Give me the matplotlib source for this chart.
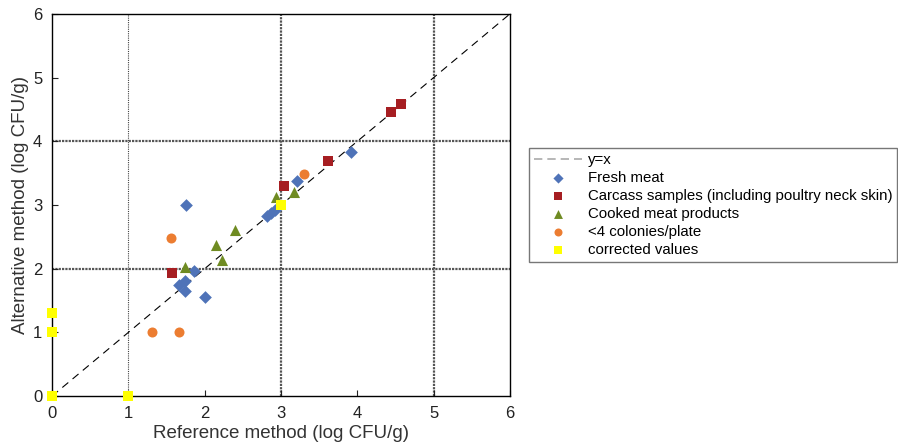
import matplotlib.pyplot as plt

plt.rcParams['font.family'] = ['Liberation Sans', 'DejaVu Sans']

# values (log CFU/g)
fresh_x = [1.75, 3.21, 2.82, 2.87, 2.92, 1.86, 1.74, 1.66, 1.74, 2.0, 3.91]
fresh_y = [3.0, 3.38, 2.82, 2.87, 2.92, 1.96, 1.81, 1.74, 1.65, 1.56, 3.83]

carcass_x = [1.57, 3.04, 3.62, 4.44, 4.57]
carcass_y = [1.93, 3.29, 3.69, 4.46, 4.58]

cooked_x = [1.74, 2.15, 2.23, 2.40, 2.94, 3.17]
cooked_y = [2.02, 2.37, 2.13, 2.61, 3.13, 3.20]

few_x = [3.30, 1.56, 1.31, 1.66]
few_y = [3.48, 2.48, 1.0, 1.0]

corr_x = [3.0, 0, 1, 0, 0]
corr_y = [3.0, 0, 0, 1, 1.3]

ticks = [0, 1, 2, 3, 4, 5, 6]

fig = plt.figure(figsize=(8.98, 4.46), dpi=100)
ax = fig.add_axes([0.058, 0.112, 0.510, 0.857])

# grid lines at odd x and even y
ax.axvline(1, color="#444444", lw=0.8, ls=(0, (1, 1)), zorder=1)
for xv in [3, 5]:
    ax.axvline(xv, color="#555555", lw=1.6, ls=(0, (1, 0.5)), zorder=1)
for yv in [2, 4]:
    ax.axhline(yv, color="#555555", lw=1.6, ls=(0, (1, 0.5)), zorder=1)

ax.plot([0, 6], [0, 6], color="black", lw=0.8, ls=(0, (7, 5)), zorder=2)
# legend proxy for the dashed line (gray in the legend)
ax.plot([], [], color="#aaaaaa", lw=1.2, ls=(0, (5, 3)), label="y=x")

ax.scatter(fresh_x, fresh_y, marker="D", s=42, color="#4f73b8", lw=0, zorder=3, label="Fresh meat")
ax.scatter(carcass_x, carcass_y, marker="s", s=52, color="#a61e22", lw=0, zorder=3,
           label="Carcass samples (including poultry neck skin)")
ax.scatter(cooked_x, cooked_y, marker="^", s=64, color="#6f8b22", lw=0, zorder=3,
           label="Cooked meat products")
ax.scatter(few_x, few_y, marker="o", s=52, color="#ec7d31", lw=0, zorder=3,
           label="<4 colonies/plate")
ax.scatter(corr_x, corr_y, marker="s", s=52, color="#ffff00", lw=0, zorder=4,
           label="corrected values", clip_on=False)

ax.set_xlim(0, 6)
ax.set_ylim(0, 6)
ax.set_xticks(ticks)
ax.set_yticks(ticks)
ax.tick_params(direction="in", length=4, labelsize=12, colors="#222222", pad=7)
for s in ax.spines.values():
    s.set_linewidth(1.0)

ax.set_xlabel("Reference method (log CFU/g)", fontsize=13.5, color="#333333", labelpad=3)
ax.set_ylabel("Alternative method (log CFU/g)", fontsize=13.5, color="#333333", labelpad=3)

leg = fig.legend(loc="upper left", bbox_to_anchor=(529 / 898, 1 - 148 / 446),
                 borderaxespad=0, fontsize=10.8, frameon=True, fancybox=False,
                 edgecolor="#555555", handlelength=3.2, handletextpad=0.35,
                 borderpad=0.35, labelspacing=0.26, markerscale=0.8)
leg.get_frame().set_linewidth(1.0)

plt.savefig("out.png", dpi=100)
